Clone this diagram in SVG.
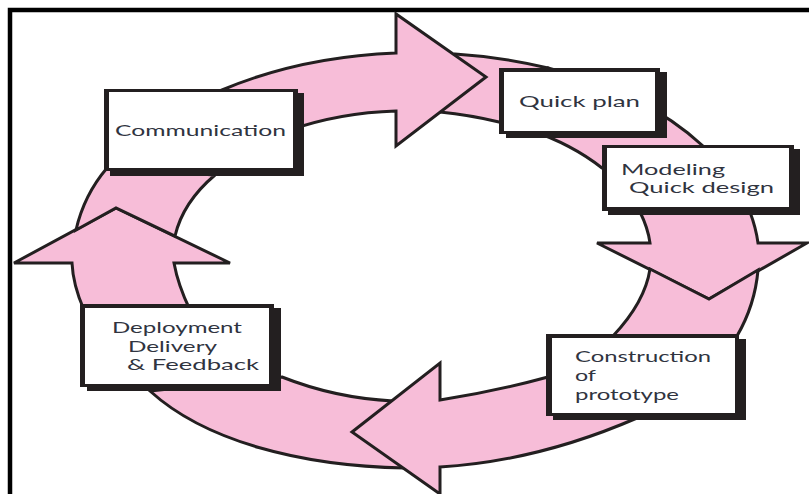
<svg xmlns="http://www.w3.org/2000/svg" width="809" height="494" viewBox="0 0 809 494">
<style>
.band{fill:#f7bdd8;stroke:#231f20;stroke-width:3;stroke-linejoin:miter}
.ink{fill:#231f20}
.face{fill:#fff}
text{font-family:"Lato","Open Sans","Liberation Sans",sans-serif;font-size:16px;fill:#30343f}
</style>
<rect width="809" height="494" fill="#fff"/>
<path d="M10 494V10H809" fill="none" stroke="#000" stroke-width="4.5"/>
<g id="connectors">
<path class="band" d="M548 68A343 207 0 0 1 703 146L602 168A238 145 0 0 0 530 130Z"/>
<path class="band" d="M455 54A343 207 0 0 1 548 68L560 120L499 122Q470 115 440 112Z"/>
<path class="band" d="M222 90A343 207 0 0 1 396 53V14L486 77L396 146V111A238 145 0 0 0 290 130Z"/>
<path class="band" d="M640 212Q648 228 650 243H597L709 299L807 243H758Q756 228 750 212Z"/>
<path class="band" d="M650 269Q645 302 613 336L737 336Q755 305 758 270L709 299Z"/>
<path class="band" d="M393 401Q335 398 282 377L150 391C205 441 300 466 405 468Z"/>
<path class="band" d="M548 377Q493 392 440 400V363L352 432L440 494V467Q538 461 637 418Z"/>
<path class="band" d="M84 310Q73 285 72 263H14L116 208L230 263H174Q178 285 190 310Z"/>
<path class="band" d="M76 230Q84 195 107 168L215 175Q183 202 175 236L116 208Z"/>
</g>
<g id="communication">
<rect class="ink" x="110" y="93" width="194" height="83"/><rect class="ink" x="104" y="89" width="194" height="82"/><rect class="face" x="109" y="92" width="184" height="76"/>
<text x="115" y="136" textLength="171" lengthAdjust="spacingAndGlyphs">Communication</text>
</g>
<g id="quick-plan">
<rect class="ink" x="506" y="72" width="161" height="66"/><rect class="ink" x="499" y="68" width="161" height="66"/><rect class="face" x="504" y="72" width="151" height="59"/>
<text x="519" y="107" textLength="121" lengthAdjust="spacingAndGlyphs">Quick plan</text>
</g>
<g id="modeling">
<rect class="ink" x="608" y="149" width="192" height="66"/><rect class="ink" x="602" y="145" width="192" height="66"/><rect class="face" x="607" y="148" width="182" height="59"/>
<text x="621" y="175" textLength="104" lengthAdjust="spacingAndGlyphs">Modeling</text>
<text x="629" y="193" textLength="145" lengthAdjust="spacingAndGlyphs">Quick design</text>
</g>
<g id="construction">
<rect class="ink" x="553" y="339" width="193" height="81"/><rect class="ink" x="546" y="334" width="193" height="82"/><rect class="face" x="552" y="338" width="183" height="75"/>
<text x="575" y="362" textLength="136" lengthAdjust="spacingAndGlyphs">Construction</text>
<text x="575" y="381" textLength="21" lengthAdjust="spacingAndGlyphs">of</text>
<text x="575" y="400" textLength="104" lengthAdjust="spacingAndGlyphs">prototype</text>
</g>
<g id="deployment">
<rect class="ink" x="87" y="308" width="194" height="83"/><rect class="ink" x="80" y="304" width="194" height="83"/><rect class="face" x="85" y="308" width="184" height="76"/>
<text x="112" y="333" textLength="130" lengthAdjust="spacingAndGlyphs">Deployment</text>
<text x="128" y="352" textLength="89" lengthAdjust="spacingAndGlyphs">Delivery</text>
<text x="127" y="370" textLength="132" lengthAdjust="spacingAndGlyphs">&amp; Feedback</text>
</g>
</svg>
